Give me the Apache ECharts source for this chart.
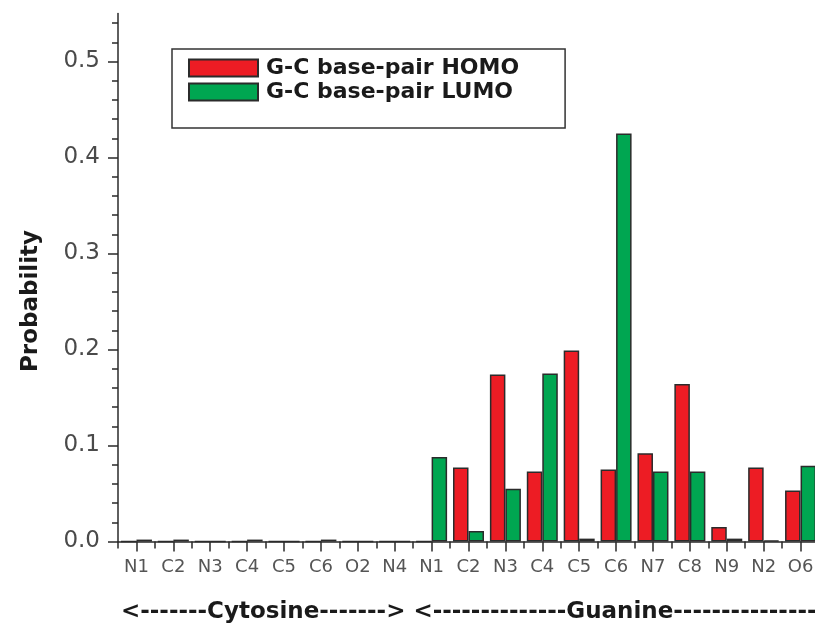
<!DOCTYPE html>
<html>
<head>
<meta charset="utf-8">
<title>G-C base-pair HOMO / LUMO probability</title>
<script src="https://cdn.jsdelivr.net/npm/echarts@6/dist/echarts.min.js"></script>
<style>
  html, body { margin: 0; padding: 0; background: #ffffff; }
  #chart { width: 815px; height: 626px; }
</style>
</head>
<body>
<div id="chart"></div>
<script>
// Atom labels: cytosine atoms first, then guanine atoms
const atoms = ['N1', 'C2', 'N3', 'C4', 'C5', 'C6', 'O2', 'N4',
               'N1', 'C2', 'N3', 'C4', 'C5', 'C6', 'N7', 'C8', 'N9', 'N2', 'O6'];

// Orbital probability on each atom
const homoValues = [0, 0, 0, 0, 0, 0, 0, 0,
                    0, 0.077, 0.174, 0.073, 0.199, 0.075, 0.092, 0.164, 0.015, 0.077, 0.053];
const lumoValues = [0.002, 0.002, 0, 0.002, 0, 0.002, 0, 0,
                    0.088, 0.011, 0.055, 0.175, 0.003, 0.425, 0.073, 0.073, 0.003, 0.001, 0.079];

const seriesNames = ['G-C base-pair HOMO', 'G-C base-pair LUMO'];

// Y axis ticks
const majorTicks = [0, 0.1, 0.2, 0.3, 0.4, 0.5];
const minorTicks = [0.02, 0.04, 0.06, 0.08, 0.12, 0.14, 0.16, 0.18, 0.22, 0.24, 0.26, 0.28,
                    0.32, 0.34, 0.36, 0.38, 0.42, 0.44, 0.46, 0.48, 0.52, 0.54];

// Group captions under the atom labels
const groupCaption = '<-------Cytosine-------> <--------------Guanine--------------->';
const yTitle = 'Probability';

const FONT = '"DejaVu Sans", "Liberation Sans", Arial, sans-serif';
const AXIS_COLOR = '#2a2a2a';

const chart = echarts.init(document.getElementById('chart'), null, { renderer: 'canvas' });

chart.setOption({
  animation: false,
  backgroundColor: '#ffffff',
  grid: {
    left: 118,
    top: 13.5,
    bottom: 84.5,
    width: 701,
    containLabel: false,
    outerBoundsMode: 'none'
  },
  legend: {
    orient: 'vertical',
    left: 172,
    top: 49,
    data: seriesNames,
    icon: 'rect',
    itemWidth: 69,
    itemHeight: 17,
    itemGap: 2,
    padding: [8, 46, 25, 16],
    borderColor: '#333333',
    borderWidth: 1.5,
    borderRadius: 0,
    selectedMode: false,
    textStyle: {
      fontFamily: FONT,
      fontSize: 22,
      fontWeight: 'bold',
      color: '#1a1a1a',
      lineHeight: 20,
      padding: [0, 0, 0, 3]
    }
  },
  xAxis: [
    {
      type: 'category',
      data: atoms,
      position: 'bottom',
      axisLine: { show: true, lineStyle: { color: AXIS_COLOR, width: 1.5 } },
      axisTick: { show: true, alignWithLabel: true, length: 10, lineStyle: { color: AXIS_COLOR, width: 1.5 } },
      axisLabel: { interval: 0, margin: 17, fontFamily: FONT, fontSize: 18, color: '#555555' },
      splitLine: { show: false }
    },
    {
      type: 'category',
      data: atoms,
      position: 'bottom',
      axisLine: { show: false },
      axisTick: { show: true, alignWithLabel: false, interval: 0, length: 7, lineStyle: { color: AXIS_COLOR, width: 1.5 } },
      axisLabel: { show: false },
      splitLine: { show: false }
    }
  ],
  yAxis: [
    {
      type: 'value',
      min: 0,
      max: 0.55,
      interval: 0.1,
      position: 'left',
      axisLine: { show: true, lineStyle: { color: AXIS_COLOR, width: 1.5 } },
      axisTick: { show: true, length: 10, customValues: majorTicks, lineStyle: { color: AXIS_COLOR, width: 1.5 } },
      axisLabel: {
        customValues: majorTicks,
        margin: 18,
        fontFamily: FONT,
        fontSize: 23,
        color: '#4a4a4a',
        formatter: v => v.toFixed(1)
      },
      splitLine: { show: false }
    },
    {
      type: 'value',
      min: 0,
      max: 0.55,
      position: 'left',
      axisLine: { show: false },
      axisTick: { show: true, length: 6, customValues: minorTicks, lineStyle: { color: AXIS_COLOR, width: 1.5 } },
      axisLabel: { show: false },
      splitLine: { show: false }
    }
  ],
  series: [
    {
      name: seriesNames[0],
      type: 'bar',
      data: homoValues,
      barWidth: 15.5,
      barGap: '0%',
      itemStyle: { color: '#ED1C24', borderColor: '#2b2b2b', borderWidth: 1.5 }
    },
    {
      name: seriesNames[1],
      type: 'bar',
      data: lumoValues,
      barWidth: 15.5,
      barGap: '0%',
      itemStyle: { color: '#00A651', borderColor: '#2b2b2b', borderWidth: 1.5 }
    }
  ],
  graphic: [
    {
      type: 'text',
      x: 31,
      y: 301,
      rotation: Math.PI / 2,
      style: {
        text: yTitle,
        fontFamily: FONT,
        fontSize: 23,
        fontWeight: 'bold',
        fill: '#1a1a1a',
        align: 'center',
        verticalAlign: 'middle'
      }
    },
    {
      type: 'text',
      x: 121,
      y: 612,
      style: {
        text: groupCaption,
        fontFamily: FONT,
        fontSize: 23,
        fontWeight: 'bold',
        fill: '#1a1a1a',
        align: 'left',
        verticalAlign: 'middle'
      }
    }
  ]
});
</script>
</body>
</html>
